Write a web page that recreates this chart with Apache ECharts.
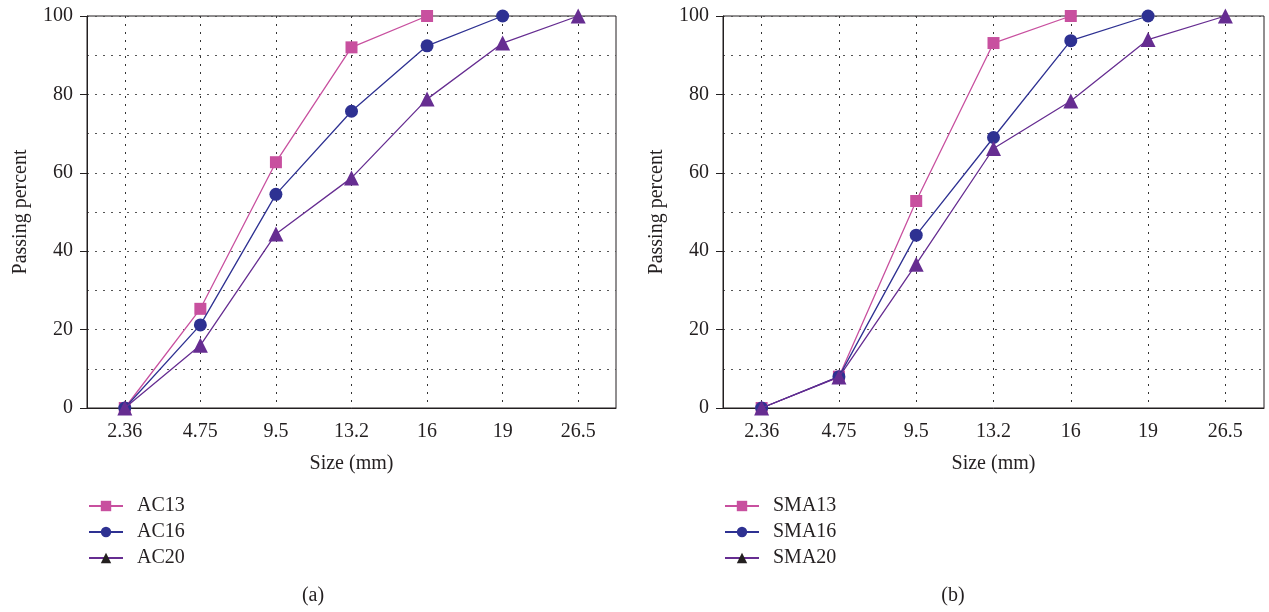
<!DOCTYPE html>
<html>
<head>
<meta charset="utf-8">
<style>
  html, body { margin: 0; padding: 0; background: #fff; }
  #main { width: 1269px; height: 612px; }
</style>
<script src="https://cdn.jsdelivr.net/npm/echarts@6/dist/echarts.min.js"></script>
</head>
<body>
<div id="main"></div>
<script>
// 数据
var sizes = ["2.36", "4.75", "9.5", "13.2", "16", "19", "26.5"];
var yTicks = [0, 20, 40, 60, 80, 100];
var ac13 = [0, 25.3, 62.7, 92.0, 100, null, null];
var ac16 = [0, 21.2, 54.5, 75.7, 92.4, 100, null];
var ac20 = [0, 16.0, 44.4, 58.7, 78.8, 93.1, 100];
var sma13 = [0, 8.0, 52.8, 93.1, 100, null, null];
var sma16 = [0, 8.0, 44.1, 69.0, 93.7, 100, null];
var sma20 = [0, 7.9, 36.7, 66.2, 78.3, 94.0, 100];

(function () {
    var myChart = echarts.init(document.getElementById("main"));
    var font = "Liberation Serif";
    var ink = "#231f20";
    var colors = ["#c8509f", "#2e3192", "#662d91"];
    var symbols = ["rect", "circle", "triangle"];
    var symbolSizes = [12, 13, 15];

    // x轴
    function makeX(gridIndex) {
        return {
            type: "category",
            gridIndex: gridIndex,
            data: sizes,
            boundaryGap: true,
            name: "Size (mm)",
            nameLocation: "middle",
            nameGap: 46,
            nameTextStyle: { fontFamily: font, fontSize: 20, color: ink },
            axisLine: { lineStyle: { color: ink, width: 1 } },
            axisTick: { alignWithLabel: true, length: 5, lineStyle: { color: ink } },
            axisLabel: { fontFamily: font, fontSize: 20, color: ink, margin: 14 },
            splitLine: {
                show: true,
                alignWithLabel: true,
                lineStyle: { color: "#333", type: [2, 6], width: 1 },
            },
        };
    }
    // y轴
    function makeY(gridIndex) {
        return {
            type: "value",
            gridIndex: gridIndex,
            min: yTicks[0],
            max: yTicks[yTicks.length - 1],
            interval: yTicks[1] - yTicks[0],
            name: "Passing percent",
            nameLocation: "middle",
            nameGap: 56,
            nameTextStyle: { fontFamily: font, fontSize: 20, color: ink },
            axisLine: { show: true, lineStyle: { color: ink, width: 1 } },
            axisTick: { show: true, length: 7, lineStyle: { color: ink } },
            axisLabel: { fontFamily: font, fontSize: 20, color: ink, margin: 14 },
            splitLine: { show: true, lineStyle: { color: "#555", type: [2, 6], width: 1 } },
            minorTick: { show: false, splitNumber: 2 },
            minorSplitLine: { show: true, lineStyle: { color: "#555", type: [2, 6], width: 1 } },
        };
    }
    // 系列
    function makeSeries(name, data, i, axisIndex) {
        return {
            name: name,
            type: "line",
            xAxisIndex: axisIndex,
            yAxisIndex: axisIndex,
            data: data,
            symbol: symbols[i],
            symbolSize: symbolSizes[i],
            showAllSymbol: true,
            connectNulls: false,
            color: colors[i],
            lineStyle: { width: 1.3, color: colors[i] },
            itemStyle: { color: colors[i] },
            z: 3 + i,
        };
    }
    function makeLegend(names, left) {
        return {
            orient: "vertical",
            left: left,
            top: 491,
            itemWidth: 34,
            itemHeight: 13,
            itemGap: 6,
            textStyle: { fontFamily: font, fontSize: 20, color: ink, padding: [0, 0, 0, 9] },
            data: [
                { name: names[0] },
                { name: names[1] },
                { name: names[2], itemStyle: { color: ink } },
            ],
        };
    }

    var option = {
        animation: false,
        grid: [
            { left: 87, right: 653, top: 16, bottom: 204, show: true, borderColor: ink, borderWidth: 1 },
            { left: 723, right: 5, top: 16, bottom: 204, show: true, borderColor: ink, borderWidth: 1 },
        ],
        xAxis: [makeX(0), makeX(1)],
        yAxis: [makeY(0), makeY(1)],
        legend: [
            makeLegend(["AC13", "AC16", "AC20"], 83),
            makeLegend(["SMA13", "SMA16", "SMA20"], 719),
        ],
        graphic: [
            { type: "text", x: 313, y: 596, style: { text: "(a)", font: "20px " + font, fill: ink, textAlign: "center", textVerticalAlign: "middle" } },
            { type: "text", x: 953, y: 596, style: { text: "(b)", font: "20px " + font, fill: ink, textAlign: "center", textVerticalAlign: "middle" } },
        ],
        series: [
            makeSeries("AC13", ac13, 0, 0),
            makeSeries("AC16", ac16, 1, 0),
            makeSeries("AC20", ac20, 2, 0),
            makeSeries("SMA13", sma13, 0, 1),
            makeSeries("SMA16", sma16, 1, 1),
            makeSeries("SMA20", sma20, 2, 1),
        ],
    };
    myChart.setOption(option);
})();
</script>
</body>
</html>
